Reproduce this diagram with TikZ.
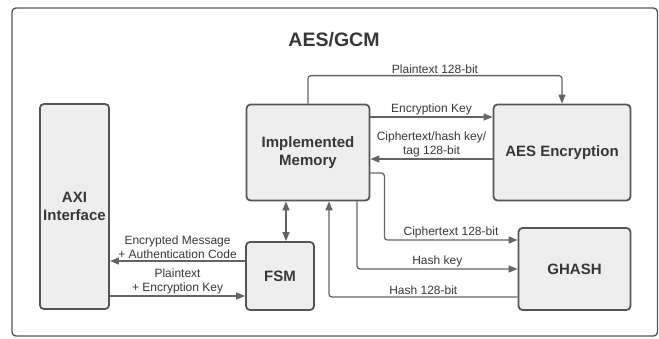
\documentclass[tikz,border=0pt]{standalone}
\usepackage{fontspec}
\setmainfont{Liberation Sans}
\usetikzlibrary{arrows.meta, positioning}

\definecolor{boxfill}{RGB}{238,238,238}
\definecolor{boxline}{RGB}{85,85,85}
\definecolor{wire}{RGB}{100,100,100}
\definecolor{txt}{RGB}{55,55,55}

\begin{document}
\begin{tikzpicture}[
  x=1pt, y=-1pt,
  block/.style={
    rectangle,
    draw=boxline,
    line width=1.8pt,
    rounded corners=4pt,
    fill=boxfill,
    text=txt,
    align=center,
    font=\fontsize{15}{18}\selectfont\bfseries,
  },
  wire/.style={draw=wire, line width=1.3pt, rounded corners=3pt,
    -{Triangle[length=9pt,width=7pt]}},
  lbl/.style={text=txt, align=center, inner sep=1.5pt,
    font=\fontsize{12}{14}\selectfont},
  ]
  \useasboundingbox (0,0) rectangle (659,338);
  \draw[boxline, line width=1.4pt, rounded corners=4pt] (12,8) rectangle (657.5,336);

  \node[text=txt, font=\fontsize{19.5}{22}\selectfont\bfseries] (title) at (334,40) {AES/GCM};

  \node[block, minimum width=69pt, minimum height=205pt] (axi) at (74.5,206.5) {AXI\\Interface};
  \node[block, minimum width=123pt, minimum height=96pt] (mem) at (308,152.5) {Implemented\\Memory};
  \node[block, minimum width=137pt, minimum height=96pt] (aes) at (562,152.5) {AES Encryption};
  \node[block, minimum width=68pt, minimum height=68pt] (fsm) at (280,276) {FSM};
  \node[block, minimum width=112pt, minimum height=82pt] (ghash) at (574.5,269) {GHASH};

  % memory <-> AES core
  \draw[wire] (mem.north) -- ++(0,-28) -| (aes.north)
    node[lbl, pos=0.25, above] (lplain) {Plaintext 128-bit};
  \draw[wire] ([yshift=35.5pt]mem.east) -- ([yshift=35.5pt]aes.west)
    node[lbl, midway, above] (lkey) {Encryption Key};
  \draw[wire] ([yshift=-6.5pt]aes.west) -- ([yshift=-6.5pt]mem.east)
    node[lbl, midway, above] (lcipher) {Ciphertext/hash key/\\tag 128-bit};

  % memory <-> GHASH
  \draw[wire] ([yshift=-20.5pt]mem.east) -- ++(14,0) |- ([yshift=29pt]ghash.west)
    node[lbl, pos=0.75, above] (lct) {Ciphertext 128-bit};
  \draw[wire] ([xshift=49pt]mem.south) |- (ghash.west)
    node[lbl, pos=0.75, above] (lhk) {Hash key};
  \draw[wire] ([yshift=-28pt]ghash.west) -| ([xshift=21pt]mem.south)
    node[lbl, pos=0.25, above] (lhash) {Hash 128-bit};

  % control path
  \draw[wire, {Triangle[length=9pt,width=7pt]}-{Triangle[length=9pt,width=7pt]}]
    ([xshift=-22pt]mem.south) -- ([xshift=-22pt]mem.south |- fsm.north);
  \draw[wire] ([yshift=15pt]fsm.west) -- ([yshift=15pt]fsm.west -| axi.east)
    node[lbl, midway, above] (lout) {Encrypted Message\\+ Authentication Code};
  \draw[wire] ([yshift=-20pt]fsm.west -| axi.east) -- ([yshift=-20pt]fsm.west)
    node[lbl, midway, above] (lin) {Plaintext\\+ Encryption Key};
\end{tikzpicture}
\end{document}
